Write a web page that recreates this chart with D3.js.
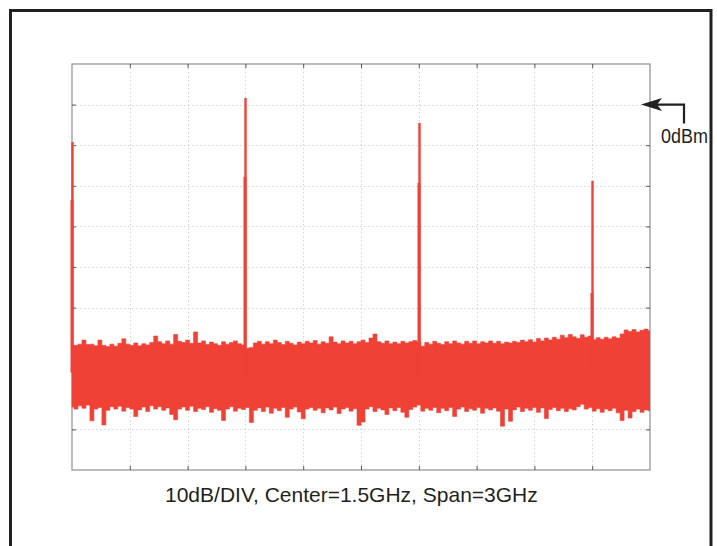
<!DOCTYPE html>
<html>
<head>
<meta charset="utf-8">
<script src="https://cdn.jsdelivr.net/npm/d3@7"></script>
<style>
  html, body { margin: 0; padding: 0; background: #fff; }
  svg { display: block; }
</style>
</head>
<body>
<svg id="chart" width="717" height="546"></svg>
<script>
// ---------- data ----------
const freqTicks = [0, 0.3, 0.6, 0.9, 1.2, 1.5, 1.8, 2.1, 2.4, 2.7, 3.0]; // GHz
const levelTicks = [10, 0, -10, -20, -30, -40, -50, -60, -70, -80, -90]; // dBm
const spanGHz = [0, 3];
const levelRange = [-90, 10];

// spectral lines (carrier + harmonics)
const spikeFreqs = [0, 0.9, 1.8, 2.7];
const spikePeaks = [-9.2, 1.6, -4.5, -18.8];
const spikeShoulders = [-23.5, -17.8, -19.3, -46.4];

// noise floor envelope (dBm), evenly spaced across the span
const noiseUpper = [
  -59.2,-59.3,-59.0,-58.0,-59.1,-59.0,-59.4,-58.0,-59.3,-59.6,
  -59.0,-59.5,-58.8,-57.7,-59.0,-59.3,-58.7,-59.4,-58.9,-59.2,
  -58.6,-57.0,-58.4,-58.9,-58.2,-59.0,-56.6,-58.3,-58.6,-58.0,
  -58.8,-56.0,-58.7,-58.2,-59.1,-58.5,-58.9,-59.3,-58.4,-59.0,
  -58.6,-58.2,-58.9,-59.2,-60.0,-59.8,-58.7,-58.3,-59.0,-58.4,
  -58.9,-58.0,-58.6,-59.1,-58.3,-58.8,-59.2,-58.5,-58.9,-58.3,
  -58.7,-58.1,-59.0,-58.4,-58.8,-57.2,-58.5,-58.9,-58.2,-58.7,
  -58.3,-58.9,-58.4,-58.0,-58.6,-57.5,-56.5,-58.4,-58.8,-58.2,
  -58.9,-58.5,-58.9,-58.3,-58.7,-58.4,-58.1,-58.5,-59.5,-58.6,
  -59.0,-58.3,-58.8,-59.1,-58.4,-58.9,-58.2,-58.7,-59.0,-58.3,
  -58.8,-58.2,-58.9,-58.4,-58.7,-58.2,-58.8,-58.3,-58.9,-58.5,
  -58.7,-58.3,-58.6,-58.0,-58.4,-57.9,-58.5,-57.6,-58.2,-57.5,
  -58.0,-57.3,-57.8,-56.8,-57.4,-56.6,-57.2,-57.6,-56.7,-57.3,
  -57.0,-57.9,-57.4,-57.8,-57.3,-57.7,-57.2,-57.5,-56.5,-55.5,
  -55.9,-55.4,-56.0,-55.6,-55.3,-55.7
];
const noiseLower = [
  -74.5,-75.0,-74.2,-74.8,-74.0,-77.9,-75.0,-74.6,-78.9,-75.3,
  -74.4,-75.0,-74.3,-75.5,-74.6,-75.0,-76.8,-75.2,-74.5,-75.6,
  -74.2,-75.0,-74.4,-75.3,-74.7,-76.3,-77.6,-75.0,-74.5,-75.3,
  -74.3,-75.6,-74.8,-75.1,-74.4,-75.8,-74.9,-75.3,-77.8,-75.0,
  -74.4,-75.5,-74.8,-75.1,-74.6,-78.3,-75.3,-74.7,-75.6,-74.5,
  -76.0,-74.8,-75.4,-74.6,-77.0,-75.0,-74.5,-75.7,-77.4,-75.0,
  -74.6,-75.3,-74.8,-75.9,-74.7,-75.2,-74.5,-76.1,-75.0,-74.6,
  -75.5,-74.9,-79.0,-78.2,-75.0,-74.4,-75.6,-74.8,-75.2,-76.3,
  -74.7,-75.4,-74.6,-75.8,-77.0,-75.1,-74.5,-74.0,-75.5,-74.8,
  -75.3,-74.6,-75.9,-74.8,-75.4,-74.6,-76.8,-75.0,-74.5,-75.6,
  -74.9,-75.3,-74.6,-76.0,-74.8,-75.2,-74.7,-75.5,-79.2,-75.0,
  -78.0,-75.2,-74.5,-75.6,-74.8,-75.3,-74.6,-75.8,-74.7,-77.3,
  -75.1,-74.6,-75.4,-74.8,-75.6,-74.9,-75.2,-74.4,-73.8,-75.0,
  -74.6,-75.5,-74.9,-75.8,-75.0,-75.4,-74.8,-75.9,-77.8,-75.3,
  -77.2,-75.6,-75.0,-75.8,-75.2,-75.4
];

const caption = "10dB/DIV, Center=1.5GHz, Span=3GHz";
const refLabel = "0dBm";
const refLevel = 0;

// ---------- layout ----------
const plot = { left: 72, top: 64, right: 650, bottom: 470 };
const traceColor = "#ef4136";
const ink = "#231f20";

const svg = d3.select("#chart");
svg.append("rect").attr("width", 717).attr("height", 546).attr("fill", "#fff");

// outer frame
svg.append("rect")
  .attr("x", 10.5).attr("y", 10.5)
  .attr("width", 700.5).attr("height", 600)
  .attr("fill", "none").attr("stroke", ink).attr("stroke-width", 3);

const x = d3.scaleLinear().domain(spanGHz).range([plot.left, plot.right]);
const y = d3.scaleLinear().domain(levelRange).range([plot.bottom, plot.top]);

// grid
const grid = svg.append("g").attr("stroke", "#d4d4d4").attr("stroke-width", 1)
  .attr("stroke-dasharray", "1.5,2.5");
grid.selectAll("line.v").data(freqTicks.slice(1, -1)).join("line")
  .attr("x1", d => Math.round(x(d)) + 0.5).attr("x2", d => Math.round(x(d)) + 0.5)
  .attr("y1", plot.top).attr("y2", plot.bottom);
grid.selectAll("line.h").data(levelTicks.slice(1, -1)).join("line")
  .attr("y1", d => Math.round(y(d)) + 0.5).attr("y2", d => Math.round(y(d)) + 0.5)
  .attr("x1", plot.left).attr("x2", plot.right);

// plot frame + inward ticks (drawn beneath the trace)
const axisColor = "#8f8f8f";
svg.append("rect")
  .attr("x", plot.left).attr("y", plot.top)
  .attr("width", plot.right - plot.left).attr("height", plot.bottom - plot.top)
  .attr("fill", "none").attr("stroke", axisColor).attr("stroke-width", 1.2);

function styleAxis(g) {
  g.select(".domain").remove();
  g.selectAll(".tick line").attr("stroke", "#555").attr("stroke-width", 1);
  g.selectAll(".tick text").remove();
}
svg.append("g").attr("transform", `translate(0,${plot.top})`)
  .call(d3.axisBottom(x).tickValues(freqTicks.slice(1, -1)).tickSize(4).tickFormat(""))
  .call(styleAxis);
svg.append("g").attr("transform", `translate(0,${plot.bottom})`)
  .call(d3.axisTop(x).tickValues(freqTicks.slice(1, -1)).tickSize(4).tickFormat(""))
  .call(styleAxis);
svg.append("g").attr("transform", `translate(${plot.left},0)`)
  .call(d3.axisRight(y).tickValues(levelTicks.slice(1, -1)).tickSize(4).tickFormat(""))
  .call(styleAxis);
svg.append("g").attr("transform", `translate(${plot.right},0)`)
  .call(d3.axisLeft(y).tickValues(levelTicks.slice(1, -1)).tickSize(4).tickFormat(""))
  .call(styleAxis);

// clip
svg.append("clipPath").attr("id", "clip").append("rect")
  .attr("x", plot.left - 2).attr("y", plot.top)
  .attr("width", plot.right - plot.left + 2).attr("height", plot.bottom - plot.top);

const trace = svg.append("g").attr("clip-path", "url(#clip)");

// noise floor
const n = noiseUpper.length;
const noiseData = noiseUpper.map((u, i) => ({
  f: spanGHz[0] + (spanGHz[1] - spanGHz[0]) * i / (n - 1),
  hi: u, lo: noiseLower[i]
}));
const area = d3.area()
  .x(d => x(d.f))
  .y0(d => y(d.lo))
  .y1(d => y(d.hi))
  .curve(d3.curveStep);
trace.append("path").datum(noiseData)
  .attr("d", area).attr("fill", traceColor)
  .attr("stroke", traceColor).attr("stroke-width", 0.6);

// spectral lines
const spikes = spikeFreqs.map((f, i) => ({ f, peak: spikePeaks[i], sh: spikeShoulders[i] }));
const sx = d => Math.round(x(d.f)) + 0.5;
trace.selectAll("line.shoulder").data(spikes).join("line")
  .attr("x1", d => sx(d) - 0.5).attr("x2", d => sx(d) - 0.5)
  .attr("y1", y(-66)).attr("y2", d => y(d.sh))
  .attr("stroke", traceColor).attr("stroke-width", 3);
trace.selectAll("line.spike").data(spikes).join("line")
  .attr("x1", sx).attr("x2", sx)
  .attr("y1", y(-66)).attr("y2", d => y(d.peak))
  .attr("stroke", traceColor).attr("stroke-width", 2.4);

// reference marker
const ry = y(refLevel);
svg.append("path")
  .attr("d", `M${plot.right + 6},${ry} H${plot.right + 34} V${ry + 19}`)
  .attr("fill", "none").attr("stroke", ink).attr("stroke-width", 2.2);
svg.append("path")
  .attr("d", `M${plot.right - 9},${ry} L${plot.right + 12},${ry - 6.5} L${plot.right + 7},${ry} L${plot.right + 12},${ry + 6.5} Z`)
  .attr("fill", ink);
svg.append("text")
  .attr("x", 661).attr("y", 143)
  .attr("font-family", "'Liberation Sans', Arial, Helvetica, sans-serif")
  .attr("font-size", 20)
  .attr("textLength", 47).attr("lengthAdjust", "spacingAndGlyphs")
  .attr("fill", ink)
  .text(refLabel);

// caption
svg.append("text")
  .attr("x", 165).attr("y", 502)
  .attr("font-family", "'Liberation Sans', Arial, Helvetica, sans-serif")
  .attr("font-size", 21)
  .attr("fill", ink)
  .text(caption);
</script>
</body>
</html>
